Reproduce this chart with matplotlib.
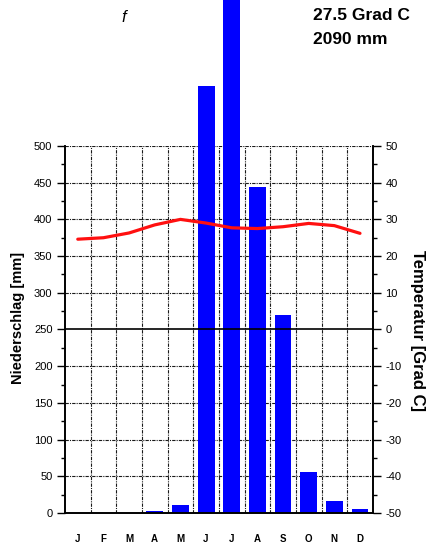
import numpy as np
import matplotlib
matplotlib.use("Agg")
import matplotlib.pyplot as plt
from matplotlib.ticker import MultipleLocator

plt.rcParams["font.family"] = ["Liberation Sans", "DejaVu Sans"]
plt.rcParams["axes.unicode_minus"] = False

months = ["J", "F", "M", "A", "M", "J", "J", "A", "S", "O", "N", "D"]
precip_mm = [0, 0, 0, 3, 11, 582, 702, 444, 270, 56, 16, 6]
temp_c = [24.6, 25.0, 26.3, 28.5, 30.0, 29.0, 27.7, 27.5, 28.0, 28.9, 28.3, 26.2]
mean_temp = "27.5 Grad C"
total_precip = "2090 mm"
station = "f"

fig = plt.figure(figsize=(4.33, 5.58), dpi=100)
ax = fig.add_axes([0.150, 0.0806, 0.711, 0.6578])
x = np.arange(len(months)) + 0.5

# bars above 500 mm run on past the frame, as in the original diagram
ax.bar(x, precip_mm, width=0.66, color="#0000ff", zorder=2, clip_on=False)
ax.set_xlim(0, 12)
ax.set_ylim(0, 500)

grid_kw = dict(color="0.1", lw=0.8, ls=(0, (3, 1, 1, 1)), zorder=1)
for b in range(1, 12):
    ax.axvline(b, **grid_kw)
for v in range(50, 501, 50):
    if v != 250:
        ax.axhline(v, **grid_kw)
ax.axhline(250, color="black", lw=1.2, zorder=3)

ax.spines["top"].set_visible(False)
for s in ["left", "right", "bottom"]:
    ax.spines[s].set_linewidth(1.2)

ax.yaxis.set_major_locator(MultipleLocator(50))
ax.yaxis.set_minor_locator(MultipleLocator(25))
ax.tick_params(axis="y", which="major", length=6, width=1.0, pad=3, labelsize=8)
ax.tick_params(axis="y", which="minor", length=3, width=1.0)
ax.set_xticks(x)
ax.set_xticklabels(months, fontsize=7, fontweight="bold")
ax.tick_params(axis="x", length=0, pad=15)

ax2 = ax.twinx()
ax2.set_ylim(-50, 50)
ax2.plot(x, temp_c, color="#ff1010", lw=2.3, solid_joinstyle="round",
         solid_capstyle="round", zorder=4)
ax2.yaxis.set_major_locator(MultipleLocator(10))
ax2.yaxis.set_minor_locator(MultipleLocator(5))
ax2.tick_params(axis="y", which="major", length=6, width=1.0, pad=3, labelsize=8)
ax2.tick_params(axis="y", which="minor", length=3, width=1.0)
ax2.spines["top"].set_visible(False)
for s in ["left", "right", "bottom"]:
    ax2.spines[s].set_linewidth(1.2)

fig.text(18 / 433, 1 - 318 / 558, "Niederschlag [mm]", rotation=90, fontsize=10.5,
         fontweight="bold", ha="center", va="center")
fig.text(417 / 433, 1 - 330 / 558, "Temperatur [Grad C]", rotation=-90, fontsize=12,
         fontweight="bold", ha="center", va="center")
fig.text(124 / 433, 1 - 17 / 558, station, fontsize=12, style="italic",
         ha="center", va="center")
fig.text(313 / 433, 1 - 16 / 558, mean_temp, fontsize=12.5, fontweight="bold",
         ha="left", va="center")
fig.text(313 / 433, 1 - 40 / 558, total_precip, fontsize=12.5, fontweight="bold",
         ha="left", va="center")

fig.savefig("out.png", dpi=100)
